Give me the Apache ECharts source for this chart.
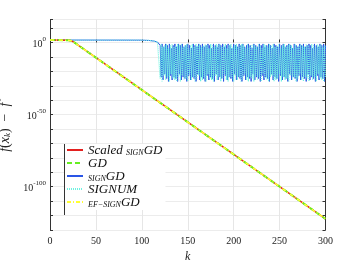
<!DOCTYPE html>
<html>
<head>
<meta charset="utf-8">
<script src="https://cdn.jsdelivr.net/npm/echarts@6/dist/echarts.min.js"></script>
<style>html,body{margin:0;padding:0;background:#fff}#c{width:360px;height:265px}</style>
</head>
<body>
<div id="c"></div>
<script>
// ---- data: log10 of f(x_k)-f* ----
var seriesNames = ['Scaled signGD', 'GD', 'signGD', 'SIGNUM', 'EF-signGD'];
var xTicks = [0, 50, 100, 150, 200, 250, 300];
var yTickLabelExps = [0, -50, -100];

var scaledSignGD = [[0, 1.7], [20, 1.6], [23, 1.2], [26, 0.2], [300, -122.3]];
var gd           = [[0, 1.7], [20, 1.6], [23, 1.2], [26, 0.2], [300, -122.3]];
var efSignGD     = [[0, 1.7], [20, 1.6], [23, 1.2], [26, 0.2], [300, -122.3]];

var signGDHead = [[0, 1.7], [100, 1.6], [108, 1.4], [113, 1.0], [117, 0.3], [119, -0.2]];
var signumHead = [[0, 1.7], [100, 1.6], [108, 1.4], [113, 1.0], [117, 0.3], [119, -0.2]];

var oscStartK = 120;
var signGDOsc = [
 -2,-24,-1,-26,-3,-22,-1,-25,-2,-27,-1,-23,-4,-26,-2,-24,-1,-25,-3,-27,
 -1,-22,-2,-26,-1,-24,-3,-25,-2,-27,-1,-23,-2,-26,-4,-24,-1,-25,-2,-27,
 -3,-22,-1,-26,-2,-24,-1,-25,-3,-27,-2,-23,-1,-26,-2,-24,-4,-25,-1,-27,
 -2,-22,-3,-26,-1,-24,-2,-25,-1,-27,-3,-23,-2,-26,-1,-24,-2,-25,-4,-27,
 -1,-22,-2,-26,-3,-24,-1,-25,-2,-27,-1,-23,-3,-26,-2,-24,-1,-25,-2,-27,
 -4,-22,-1,-26,-2,-24,-3,-25,-1,-27,-2,-23,-1,-26,-3,-24,-2,-25,-1,-27,
 -2,-22,-4,-26,-1,-24,-2,-25,-3,-27,-1,-23,-2,-26,-1,-24,-3,-25,-2,-27,
 -1,-22,-2,-26,-4,-24,-1,-25,-2,-27,-3,-23,-1,-26,-2,-24,-1,-25,-3,-27,
 -2,-22,-1,-26,-2,-24,-4,-25,-1,-27,-2,-23,-3,-26,-1,-24,-2,-25,-1,-27,
 -2
];
var signumOsc = [
 -25,-1,-27,-3,-23,-2,-26,-1,-24,-4,-27,-2,-22,-1,-25,-3,-26,-2,-27,-1,
 -24,-2,-27,-1,-23,-3,-26,-2,-25,-1,-27,-4,-22,-2,-26,-1,-24,-3,-27,-1,
 -25,-2,-23,-1,-27,-3,-26,-2,-24,-1,-27,-2,-22,-4,-25,-1,-26,-2,-27,-3,
 -23,-1,-26,-2,-24,-1,-27,-3,-25,-2,-22,-1,-26,-4,-27,-2,-24,-1,-25,-3,
 -27,-2,-23,-1,-26,-3,-24,-2,-27,-1,-25,-2,-22,-4,-26,-1,-27,-3,-24,-2,
 -25,-1,-27,-2,-23,-3,-26,-1,-24,-2,-27,-4,-22,-1,-25,-2,-26,-3,-27,-1,
 -24,-2,-23,-1,-27,-3,-26,-2,-25,-1,-22,-4,-27,-2,-24,-1,-26,-3,-25,-2,
 -27,-1,-23,-2,-26,-4,-24,-1,-27,-3,-25,-2,-22,-1,-26,-2,-27,-3,-24,-1,
 -25,-2,-27,-4,-23,-1,-26,-2,-24,-3,-27,-1,-22,-2,-25,-1,-26,-3,-27,-2,
 -24
];

function withOsc(head, osc) {
  var out = head.slice();
  for (var i = 0; i < osc.length; i++) out.push([oscStartK + i, osc[i]]);
  return out;
}

var serif = 'Liberation Serif';
var chart = echarts.init(document.getElementById('c'), null, { renderer: 'canvas' });

var legendRich = {
  i: { fontFamily: serif, fontStyle: 'italic', fontSize: 13, lineHeight: 14, color: '#111', verticalAlign: 'bottom' },
  s: { fontFamily: serif, fontStyle: 'italic', fontSize: 8, lineHeight: 14, color: '#111', verticalAlign: 'bottom' }
};
var legendText = {
  'Scaled signGD': '{i|Scaled }{s|SIGN}{i|GD}',
  'GD': '{i|GD}',
  'signGD': '{s|SIGN}{i|GD}',
  'SIGNUM': '{i|SIGNUM}',
  'EF-signGD': '{s|EF\u2212SIGN}{i|GD}'
};

function yAxisCfg(extra) {
  // exponent (log10) axis
  var o = { type: 'value', min: -130, max: 16, interval: 10 };
  for (var k in extra) o[k] = extra[k];
  return o;
}

var option = {
  animation: false,
  backgroundColor: '#fff',
  grid: { left: 50, right: 34.5, top: 19.4, bottom: 35, containLabel: false, outerBoundsMode: 'none' },
  xAxis: {
    type: 'value',
    min: 0, max: 300, interval: 50,
    axisLine: { show: false },
    axisTick: { show: true, inside: true, length: 3, lineStyle: { color: '#333' } },
    axisLabel: { fontFamily: serif, fontSize: 10, color: '#222', margin: 6 },
    splitLine: { show: true, lineStyle: { color: '#e6e6e6', width: 1 } },
    name: 'k',
    nameLocation: 'middle',
    nameGap: 16,
    nameTextStyle: { fontFamily: serif, fontStyle: 'italic', fontSize: 12, color: '#222' }
  },
  yAxis: [
    yAxisCfg({
      position: 'left',
      axisLine: { show: true, lineStyle: { color: '#333', width: 1 } },
      axisTick: { show: true, inside: true, length: 3, lineStyle: { color: '#333' } },
      axisLabel: {
        margin: 4,
        formatter: function (v) {
          var e = Math.round(v);
          if (yTickLabelExps.indexOf(e) < 0) return '';
          return '{b|10}{e|' + e + '}';
        },
        rich: {
          b: { fontFamily: serif, fontSize: 10, color: '#222', lineHeight: 14, verticalAlign: 'bottom' },
          e: { fontFamily: serif, fontSize: 7, color: '#222', lineHeight: 14, verticalAlign: 'top' }
        }
      },
      splitLine: { show: true, lineStyle: { color: '#ececec', width: 1 } },
      name: '{i|f}{n|(}{i|x}{sb|k}{n|)  \u2212  }{i|f}{sp|*}',
      nameLocation: 'middle',
      nameGap: 33,
      nameRotate: 90,
      nameTextStyle: {
        rich: {
          i: { fontFamily: serif, fontStyle: 'italic', fontSize: 14, color: '#222', lineHeight: 16, verticalAlign: 'bottom' },
          n: { fontFamily: serif, fontSize: 14, color: '#222', lineHeight: 16, verticalAlign: 'bottom' },
          sb: { fontFamily: serif, fontStyle: 'italic', fontSize: 9, color: '#222', lineHeight: 16, verticalAlign: 'bottom' },
          sp: { fontFamily: serif, fontSize: 10, color: '#222', lineHeight: 16, verticalAlign: 'top' }
        }
      }
    }),
    yAxisCfg({
      position: 'right',
      axisLine: { show: true, lineStyle: { color: '#333', width: 1 } },
      axisTick: { show: true, inside: true, length: 3, lineStyle: { color: '#333' } },
      axisLabel: { show: false },
      splitLine: { show: false }
    })
  ],
  legend: {
    orient: 'vertical',
    left: 65,
    top: 144,
    padding: [0, 3, 1, 1],
    itemGap: 0,
    itemWidth: 16,
    itemHeight: 10,
    backgroundColor: '#fff',
    selectedMode: false,
    itemStyle: { opacity: 0, color: 'transparent', borderWidth: 0 },
    data: seriesNames,
    formatter: function (n) { return legendText[n]; },
    textStyle: { rich: legendRich }
  },
  graphic: [{
    type: 'line',
    shape: { x1: 64.5, y1: 144, x2: 64.5, y2: 215 },
    style: { stroke: '#333', lineWidth: 1 },
    z: 100
  }],
  series: [
    { name: 'Scaled signGD', type: 'line', symbol: 'none', z: 3, data: scaledSignGD,
      lineStyle: { color: '#e3201f', width: 1.5 }, itemStyle: { color: '#e3201f' } },
    { name: 'GD', type: 'line', symbol: 'none', z: 4, data: gd,
      lineStyle: { color: '#66ee22', width: 2, type: [5, 3] }, itemStyle: { color: '#66ee22' } },
    { name: 'signGD', type: 'line', symbol: 'none', z: 2, data: withOsc(signGDHead, signGDOsc),
      lineStyle: { color: '#2a55e6', width: 1 }, itemStyle: { color: '#2a55e6' } },
    { name: 'SIGNUM', type: 'line', symbol: 'none', z: 2, data: withOsc(signumHead, signumOsc),
      lineStyle: { color: '#6cf2e0', width: 1.2, type: [1, 1] }, itemStyle: { color: '#6cf2e0' } },
    { name: 'EF-signGD', type: 'line', symbol: 'none', z: 5, data: efSignGD,
      lineStyle: { color: '#ffff33', width: 1.5, type: [4, 2, 1, 2] }, itemStyle: { color: '#ffff33' } }
  ]
};
chart.setOption(option);
</script>
</body>
</html>
